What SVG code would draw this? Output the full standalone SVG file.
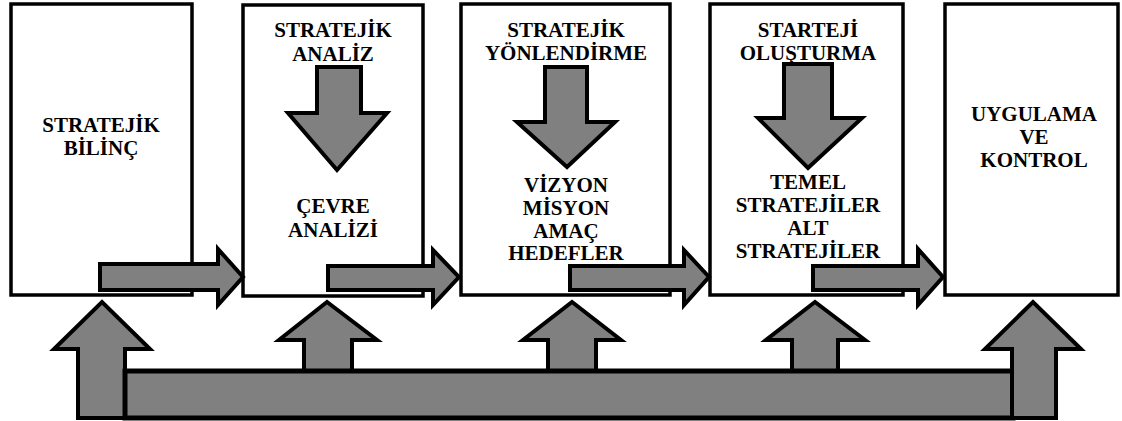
<svg xmlns="http://www.w3.org/2000/svg" width="1122" height="421" viewBox="0 0 1122 421">
<rect width="1122" height="421" fill="#fff"/>
<g id="n1"><rect fill="#fff" stroke="#000" stroke-width="3.5" x="11" y="4" width="181" height="291"/>
<text font-family="Liberation Serif" font-weight="bold" font-size="21" text-anchor="middle" x="101" y="132">STRATEJİK</text><text font-family="Liberation Serif" font-weight="bold" font-size="21" text-anchor="middle" x="101" y="155">BİLİNÇ</text></g>
<g id="n2"><rect fill="#fff" stroke="#000" stroke-width="3.5" x="243" y="5" width="180" height="291"/>
<text font-family="Liberation Serif" font-weight="bold" font-size="21" text-anchor="middle" x="333" y="37">STRATEJİK</text><text font-family="Liberation Serif" font-weight="bold" font-size="21" text-anchor="middle" x="333" y="61">ANALİZ</text>
<polygon fill="#808080" stroke="#000" stroke-width="4" points="317,67 361,67 361,113 387,113 337,170 288,113 317,113"/>
<text font-family="Liberation Serif" font-weight="bold" font-size="21" text-anchor="middle" x="333" y="213">ÇEVRE</text><text font-family="Liberation Serif" font-weight="bold" font-size="21" text-anchor="middle" x="333" y="237">ANALİZİ</text></g>
<g id="n3"><rect fill="#fff" stroke="#000" stroke-width="3.5" x="461" y="4" width="209" height="291"/>
<text font-family="Liberation Serif" font-weight="bold" font-size="21" text-anchor="middle" x="566" y="37">STRATEJİK</text><text font-family="Liberation Serif" font-weight="bold" font-size="21" text-anchor="middle" x="566" y="60">YÖNLENDİRME</text>
<polygon fill="#808080" stroke="#000" stroke-width="4" points="545,67 587,67 587,122 615,122 567,167 517,122 545,122"/>
<text font-family="Liberation Serif" font-weight="bold" font-size="21" text-anchor="middle" x="566" y="192">VİZYON</text><text font-family="Liberation Serif" font-weight="bold" font-size="21" text-anchor="middle" x="566" y="215">MİSYON</text><text font-family="Liberation Serif" font-weight="bold" font-size="21" text-anchor="middle" x="566" y="238">AMAÇ</text><text font-family="Liberation Serif" font-weight="bold" font-size="21" text-anchor="middle" x="566" y="260">HEDEFLER</text></g>
<g id="n4"><rect fill="#fff" stroke="#000" stroke-width="3.5" x="710" y="4" width="193" height="291"/>
<text font-family="Liberation Serif" font-weight="bold" font-size="21" text-anchor="middle" x="808" y="37">STARTEJİ</text><text font-family="Liberation Serif" font-weight="bold" font-size="21" text-anchor="middle" x="808" y="60">OLUŞTURMA</text>
<polygon fill="#808080" stroke="#000" stroke-width="4" points="784,64 832,64 832,118 862,118 808,168 758,118 784,118"/>
<text font-family="Liberation Serif" font-weight="bold" font-size="21" text-anchor="middle" x="808" y="189">TEMEL</text><text font-family="Liberation Serif" font-weight="bold" font-size="21" text-anchor="middle" x="808" y="212">STRATEJİLER</text><text font-family="Liberation Serif" font-weight="bold" font-size="21" text-anchor="middle" x="808" y="235">ALT</text><text font-family="Liberation Serif" font-weight="bold" font-size="21" text-anchor="middle" x="808" y="258">STRATEJİLER</text></g>
<g id="n5"><rect fill="#fff" stroke="#000" stroke-width="3.5" x="945" y="4" width="173" height="291"/>
<text font-family="Liberation Serif" font-weight="bold" font-size="21" text-anchor="middle" x="1034" y="121">UYGULAMA</text><text font-family="Liberation Serif" font-weight="bold" font-size="21" text-anchor="middle" x="1034" y="144">VE</text><text font-family="Liberation Serif" font-weight="bold" font-size="21" text-anchor="middle" x="1034" y="167">KONTROL</text></g>
<g id="connectors" fill="#808080" stroke="#000" stroke-width="4">
<polygon points="100,264 218,264 218,249 243,277 218,305 218,290 100,290"/>
<polygon points="328,266 433,266 433,250 459,277 433,305 433,290 328,290"/>
<polygon points="570,266 684,266 684,250 709,277 684,305 684,290 570,290"/>
<polygon points="813,266 918,266 918,249 943,277 918,305 918,290 813,290"/>
<polygon points="304,372 304,340 279,340 327,302 377,340 352,340 352,372"/>
<polygon points="548,372 548,340 523,340 572,302 621,340 596,340 596,372"/>
<polygon points="792,372 792,340 766,340 815,302 865,340 838,340 838,372"/>
<polygon points="78,418 78,349 54,349 102,302 150,349 125,349 125,418"/>
<rect x="125" y="371" width="888" height="47" stroke-width="5"/>
<polygon points="1012,418 1012,349 985,349 1033,302 1081,349 1056,349 1056,418"/>
</g>
</svg>
